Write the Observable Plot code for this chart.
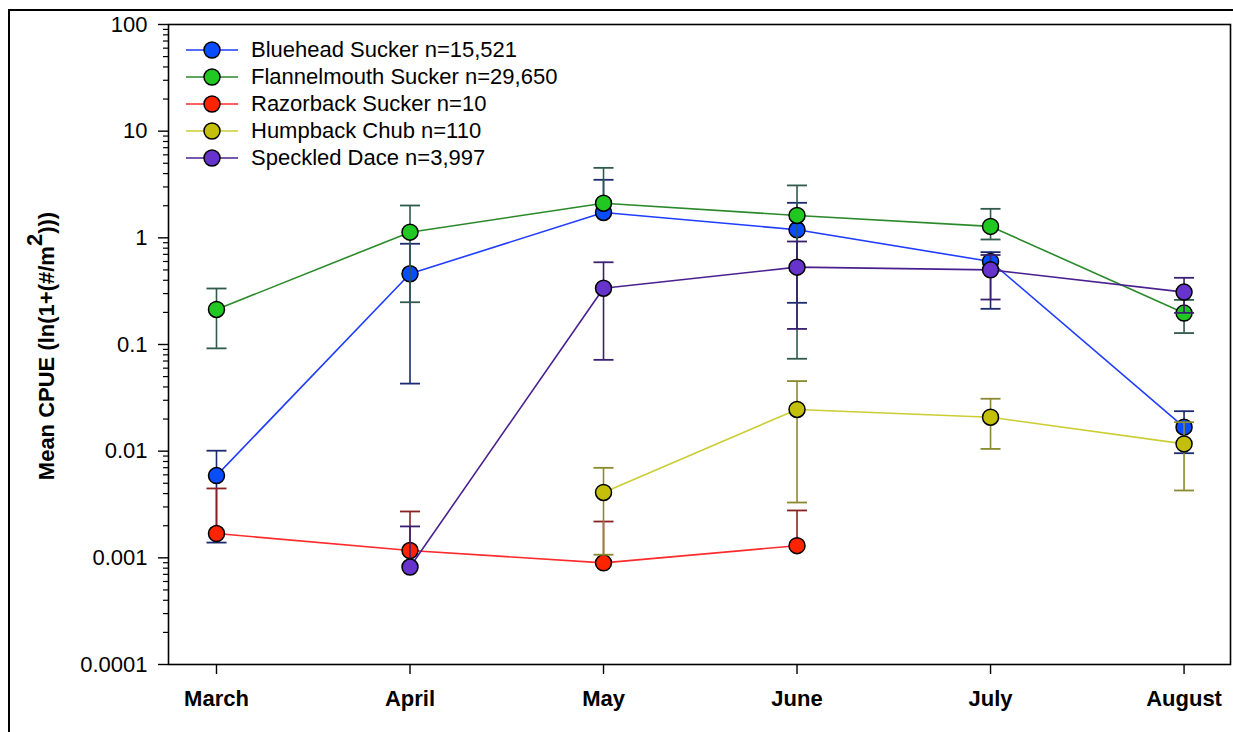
<!DOCTYPE html>
<html>
<head>
<meta charset="utf-8">
<script src="https://cdn.jsdelivr.net/npm/d3@7"></script>
<script src="https://cdn.jsdelivr.net/npm/@observablehq/plot@0.6"></script>
<style>
  html, body { margin: 0; padding: 0; background: #fff; overflow: hidden; }
  #wrap { position: relative; width: 1233px; height: 732px; }
  #border { position: absolute; left: 8px; top: 9px; width: 1300px; height: 800px; border: 2px solid #000; box-sizing: border-box; }
  #chart { position: absolute; left: 0; top: 0; }
  #legend { position: absolute; left: 186px; top: 36px; font-family: "Liberation Sans", Arial, sans-serif; font-size: 22px; color: #000; }
  .row { display: flex; align-items: center; height: 27.1px; }
  .row svg { margin-right: 13px; }
</style>
</head>
<body>
<div id="wrap">
  <div id="border"></div>
  <div id="chart"></div>
  <div id="legend"></div>
</div>
<script>
// Sampling months
const months = ["March", "April", "May", "June", "July", "August"];

// Mean CPUE and error-bar ends (null where not plotted)
const blueheadMean = [0.0059, 0.46, 1.73, 1.19, 0.60, 0.0168];
const blueheadHi   = [0.0101, 0.88, 3.5, 2.13, 0.734, 0.0237];
const blueheadLo   = [0.00139, 0.043, null, 0.246, 0.216, 0.00957];

const flannelmouthMean = [0.213, 1.13, 2.11, 1.62, 1.28, 0.197];
const flannelmouthHi   = [0.335, 2.01, 4.53, 3.1, 1.87, 0.262];
const flannelmouthLo   = [0.092, 0.249, null, 0.0735, 0.965, 0.128];

const razorbackMean = [0.00169, 0.00117, 0.000897, 0.0013, null, null];
const razorbackHi   = [0.00447, 0.00272, 0.00219, 0.00278, null, null];
const razorbackLo   = [null, null, null, null, null, null];

const humpbackMean = [null, null, 0.0041, 0.0246, 0.0208, 0.0117];
const humpbackHi   = [null, null, 0.00698, 0.0454, 0.031, 0.0187];
const humpbackLo   = [null, null, 0.00107, 0.0033, 0.0105, 0.00428];

const daceMean = [null, 0.00082, 0.337, 0.531, 0.501, 0.31];
const daceHi   = [null, 0.00197, 0.59, 0.924, 0.69, 0.422];
const daceLo   = [null, null, 0.0718, 0.14, 0.264, 0.198];

// Species, sample sizes and colours
const speciesNames = ["Bluehead Sucker", "Flannelmouth Sucker", "Razorback Sucker", "Humpback Chub", "Speckled Dace"];
const sampleSizes  = ["15,521", "29,650", "10", "110", "3,997"];
const lineColors   = ["#1f3cff", "#2a8a2a", "#ff2a2a", "#cccc33", "#4a2090"];
const fillColors   = ["#0a4dff", "#22c822", "#ff2400", "#c4bf08", "#6633cc"];
const barColors    = ["#1c2a70", "#2f5a4c", "#8a2222", "#8a8a30", "#3a2070"];

const yTicks = [0.0001, 0.001, 0.01, 0.1, 1, 10, 100];

const series = [
  [blueheadMean, blueheadHi, blueheadLo],
  [flannelmouthMean, flannelmouthHi, flannelmouthLo],
  [razorbackMean, razorbackHi, razorbackLo],
  [humpbackMean, humpbackHi, humpbackLo],
  [daceMean, daceHi, daceLo]
].map(([mean, hi, lo], k) => ({
  name: speciesNames[k],
  n: sampleSizes[k],
  line: lineColors[k],
  fill: fillColors[k],
  bar: barColors[k],
  rows: months.map((m, i) => ({i, month: m, mean: mean[i], hi: hi[i], lo: lo[i]})).filter(d => d.mean != null)
}));

// Horizontal cap for the error bars
const capSymbol = {
  draw(context, size) {
    const w = Math.sqrt(size / Math.PI);
    context.moveTo(-w, 0);
    context.lineTo(w, 0);
  }
};

// Minor log ticks between decades
const minorTicks = [];
for (let e = -4; e < 2; ++e) for (let m = 2; m <= 9; ++m) minorTicks.push(m * Math.pow(10, e));

const seriesMarks = series.flatMap(s => [
  Plot.line(s.rows, {x: "i", y: "mean", stroke: s.line, strokeWidth: 1.6}),
  Plot.ruleX(s.rows.filter(d => d.hi != null), {x: "i", y1: "mean", y2: "hi", stroke: s.bar, strokeWidth: 1.6}),
  Plot.ruleX(s.rows.filter(d => d.lo != null), {x: "i", y1: "lo", y2: "mean", stroke: s.bar, strokeWidth: 1.6}),
  Plot.dot(s.rows.filter(d => d.hi != null), {x: "i", y: "hi", symbol: capSymbol, r: 10, fill: "none", stroke: s.bar, strokeWidth: 1.8}),
  Plot.dot(s.rows.filter(d => d.lo != null), {x: "i", y: "lo", symbol: capSymbol, r: 10, fill: "none", stroke: s.bar, strokeWidth: 1.8}),
  Plot.dot(s.rows, {x: "i", y: "mean", r: 8, fill: s.fill, stroke: "#000", strokeWidth: 1.5})
]);

const chart = Plot.plot({
  width: 1233,
  height: 732,
  marginTop: 24,
  marginLeft: 168,
  marginRight: 3,
  marginBottom: 68,
  style: {fontFamily: "'Liberation Sans', Arial, sans-serif", color: "#000", background: "transparent", overflow: "visible"},
  x: {type: "linear", domain: [-0.248, 5.24]},
  y: {type: "log", domain: [0.0001, 100]},
  marks: [
    Plot.axisY({ticks: minorTicks, tickSize: 5, tickFormat: () => "", label: null, strokeWidth: 1.2}),
    Plot.axisY({ticks: yTicks, tickSize: 10, tickPadding: 11, tickFormat: d => String(d), fontSize: 22, label: null, strokeWidth: 1.4}),
    Plot.axisX({ticks: months.map((m, i) => i), tickFormat: i => months[i], tickSize: 10, tickPadding: 16, fontSize: 22, fontWeight: "bold", label: null, strokeWidth: 1.4}),
    ...seriesMarks,
    Plot.frame({stroke: "#000", strokeWidth: 1.6})
  ]
});

// Rotated y-axis title with a raised exponent
const title = d3.select(chart).append("text")
  .attr("transform", "translate(54,346) rotate(-90)")
  .attr("text-anchor", "middle")
  .attr("font-size", 22)
  .attr("font-weight", "bold")
  .attr("fill", "#000");
title.append("tspan").text("Mean CPUE (ln(1+(#/m");
title.append("tspan").attr("dy", "-0.55em").text("2");
title.append("tspan").attr("dy", "0.55em").text(")))");

document.getElementById("chart").appendChild(chart);

// Legend: line segment with marker, then label
const legend = d3.select("#legend");
for (const s of series) {
  const row = legend.append("div").attr("class", "row");
  const sw = row.append("svg").attr("width", 52).attr("height", 20);
  sw.append("line").attr("x1", 0).attr("x2", 52).attr("y1", 10).attr("y2", 10).attr("stroke", s.line).attr("stroke-width", 1.6);
  sw.append("circle").attr("cx", 26).attr("cy", 10).attr("r", 8).attr("fill", s.fill).attr("stroke", "#000").attr("stroke-width", 1.5);
  row.append("span").text(`${s.name} n=${s.n}`);
}
</script>
</body>
</html>
